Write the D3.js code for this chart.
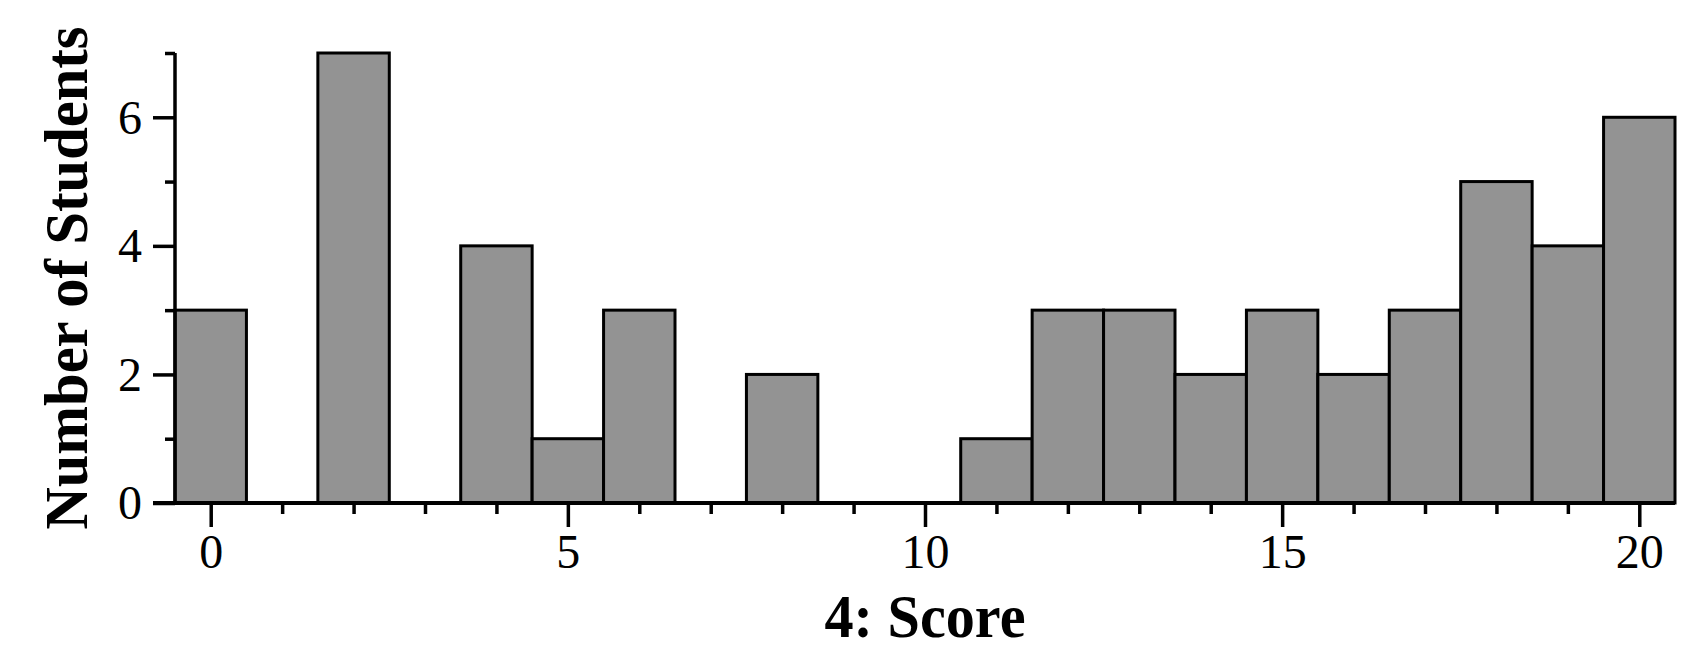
<!DOCTYPE html>
<html>
<head>
<meta charset="utf-8">
<script src="https://cdn.jsdelivr.net/npm/d3@7"></script>
<style>
  html, body { margin: 0; padding: 0; background: #fff; }
  svg { display: block; }
</style>
</head>
<body>
<svg id="chart" width="1706" height="663"></svg>
<script>
const scores = [0,1,2,3,4,5,6,7,8,9,10,11,12,13,14,15,16,17,18,19,20];
const counts = [3,0,7,0,4,1,3,0,2,0,0,1,3,3,2,3,2,3,5,4,6];
const xMajorTicks = [0,5,10,15,20];
const xMinorTicks = [1,2,3,4,6,7,8,9,11,12,13,14,16,17,18,19];
const yMajorTicks = [0,2,4,6];
const yMinorTicks = [1,3,5,7];
const xTitle = "4: Score";
const yTitle = "Number of Students";

const svg = d3.select("#chart");
const font = "'Liberation Serif', 'Times New Roman', serif";

const x = d3.scaleLinear().domain([-0.5, 20.5]).range([175, 1675]);
const y = d3.scaleLinear().domain([0, 7]).range([503, 53]);

// bars
svg.append("g").selectAll("rect")
  .data(scores.map((s, i) => ({s, c: counts[i]})).filter(d => d.c > 0))
  .join("rect")
  .attr("x", d => x(d.s - 0.5))
  .attr("y", d => y(d.c))
  .attr("width", d => x(d.s + 0.5) - x(d.s - 0.5))
  .attr("height", d => y(0) - y(d.c))
  .attr("fill", "#939393")
  .attr("stroke", "#000")
  .attr("stroke-width", 3);

// x axis (major)
const xAxisMajor = d3.axisBottom(x).tickValues(xMajorTicks).tickSize(24).tickPadding(8).tickFormat(d3.format("d"));
const gx = svg.append("g").attr("transform", `translate(0,${y(0)})`).call(xAxisMajor);
gx.select(".domain").remove();
gx.selectAll(".tick line").attr("stroke", "#000").attr("stroke-width", 3.5);
gx.selectAll(".tick text").attr("font-family", font).attr("font-size", 48).attr("fill", "#000")
  .attr("dy", "0.68em");

const xAxisMinor = d3.axisBottom(x).tickValues(xMinorTicks).tickSize(11).tickFormat("");
const gxm = svg.append("g").attr("transform", `translate(0,${y(0)})`).call(xAxisMinor);
gxm.select(".domain").remove();
gxm.selectAll(".tick line").attr("stroke", "#000").attr("stroke-width", 3.5);

// y axis
const yAxisMajor = d3.axisLeft(y).tickValues(yMajorTicks).tickSize(22).tickPadding(11).tickFormat(d3.format("d"));
const gy = svg.append("g").attr("transform", `translate(${x(-0.5)},0)`).call(yAxisMajor);
gy.select(".domain").remove();
gy.selectAll(".tick line").attr("stroke", "#000").attr("stroke-width", 3.5);
gy.selectAll(".tick text").attr("font-family", font).attr("font-size", 48).attr("fill", "#000")
  .attr("dy", "0.33em");

const yAxisMinor = d3.axisLeft(y).tickValues(yMinorTicks).tickSize(10).tickFormat("");
const gym = svg.append("g").attr("transform", `translate(${x(-0.5)},0)`).call(yAxisMinor);
gym.select(".domain").remove();
gym.selectAll(".tick line").attr("stroke", "#000").attr("stroke-width", 3.5);

// axis lines
svg.append("line")
  .attr("x1", x(-0.5) - 22).attr("x2", x(20.5))
  .attr("y1", y(0)).attr("y2", y(0))
  .attr("stroke", "#000").attr("stroke-width", 4);
svg.append("line")
  .attr("x1", x(-0.5)).attr("x2", x(-0.5))
  .attr("y1", y(0)).attr("y2", y(7))
  .attr("stroke", "#000").attr("stroke-width", 3.5);

// titles
svg.append("text")
  .attr("x", (x(-0.5) + x(20.5)) / 2)
  .attr("y", 637)
  .attr("text-anchor", "middle")
  .attr("font-family", font)
  .attr("font-weight", "bold")
  .attr("font-size", 61)
  .attr("textLength", 201)
  .attr("lengthAdjust", "spacingAndGlyphs")
  .text(xTitle);

svg.append("text")
  .attr("transform", `translate(87,${(y(0) + y(7)) / 2}) rotate(-90)`)
  .attr("text-anchor", "middle")
  .attr("font-family", font)
  .attr("font-weight", "bold")
  .attr("font-size", 61)
  .attr("textLength", 503)
  .attr("lengthAdjust", "spacingAndGlyphs")
  .text(yTitle);
</script>
</body>
</html>
